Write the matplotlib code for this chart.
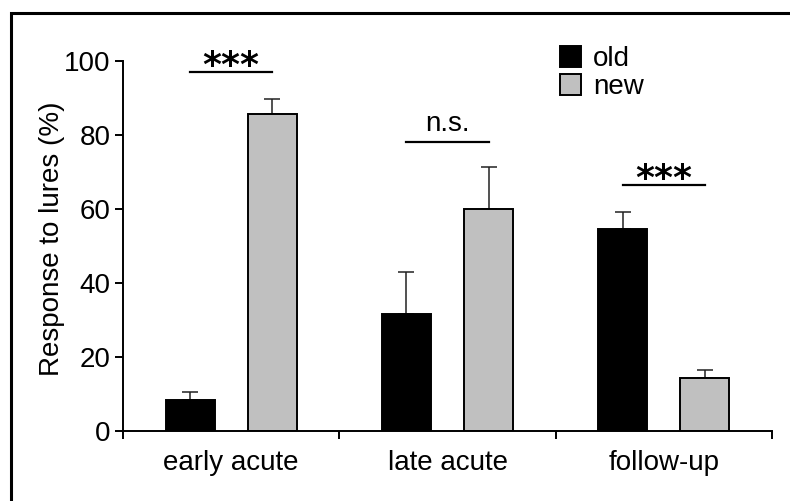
import numpy as np
import matplotlib
matplotlib.use("Agg")
import matplotlib.pyplot as plt
from matplotlib.patches import Rectangle

plt.rcParams['font.family'] = ['Liberation Sans', 'DejaVu Sans']

# data
categories = ['early acute', 'late acute', 'follow-up']
old_mean = [8.3, 31.7, 54.6]
old_err = [2.2, 11.2, 4.5]
new_mean = [85.8, 60.1, 14.2]
new_err = [3.9, 11.3, 2.2]
sig_labels = ['***', 'n.s.', '***']
sig_heights = [97.0, 78.2, 66.4]

fig = plt.figure(figsize=(7.90, 5.01), dpi=100)
ax = fig.add_axes([123 / 790, 1 - 431 / 501, (772 - 123) / 790, (431 - 61) / 501])

x = np.arange(len(categories)) + 0.5
off = 0.19
w = 0.226
fs = 20

ax.bar(x - off, old_mean, w, color='black', edgecolor='black', linewidth=1.4, label='old', zorder=2)
ax.bar(x + off, new_mean, w, color='#c0c0c0', edgecolor='black', linewidth=1.4, label='new', zorder=2)
ax.errorbar(x - off, old_mean, yerr=[np.zeros(3), old_err], fmt='none', ecolor='#222222',
            elinewidth=1.1, capsize=5.5, capthick=1.1, zorder=1)
ax.errorbar(x + off, new_mean, yerr=[np.zeros(3), new_err], fmt='none', ecolor='#222222',
            elinewidth=1.1, capsize=5.5, capthick=1.1, zorder=1)

# significance bars
for xi, lab, h in zip(x, sig_labels, sig_heights):
    ax.plot([xi - off, xi + off], [h, h], color='black', lw=1.6, clip_on=False)
    if lab == '***':
        ax.text(xi, h - 1.0, lab, ha='center', va='baseline', fontsize=26, fontweight='bold',
                family='DejaVu Sans', clip_on=False)
    else:
        ax.text(xi, h + 1.2, lab, ha='center', va='bottom', fontsize=fs, clip_on=False)

ax.set_xlim(0, 3)
ax.set_ylim(0, 100)
ax.set_yticks([0, 20, 40, 60, 80, 100])
ax.set_xticks([0, 1, 2, 3])
ax.set_xticklabels([])
ax.set_xticks(x, minor=True)
ax.set_xticklabels(categories, minor=True)
ax.tick_params(axis='x', which='major', direction='out', length=6, width=1.4)
ax.tick_params(axis='x', which='minor', length=0, pad=14, labelsize=fs)
ax.tick_params(axis='y', direction='out', length=6, width=1.4, pad=3, labelsize=fs)
ax.set_ylabel('Response to lures (%)', fontsize=fs)
ax.yaxis.set_label_coords(-0.089, 0.52)

for s in ['top', 'right']:
    ax.spines[s].set_visible(False)
for s in ['left', 'bottom']:
    ax.spines[s].set_linewidth(1.4)

leg = ax.legend(loc='upper left', bbox_to_anchor=(560 / 790, 1 - 46 / 501), bbox_transform=fig.transFigure,
                frameon=False, fontsize=fs, handlelength=0.76, handleheight=0.76,
                handletextpad=0.42, labelspacing=0.08, borderpad=0, borderaxespad=0)

# figure border (only top and left visible in reference)
fig.patches.append(Rectangle((11 / 790, -0.1), 1.2, 1 - 13 / 501 + 0.1, transform=fig.transFigure,
                             fill=False, edgecolor='black', linewidth=2.2))

fig.savefig('out.png', dpi=100)
